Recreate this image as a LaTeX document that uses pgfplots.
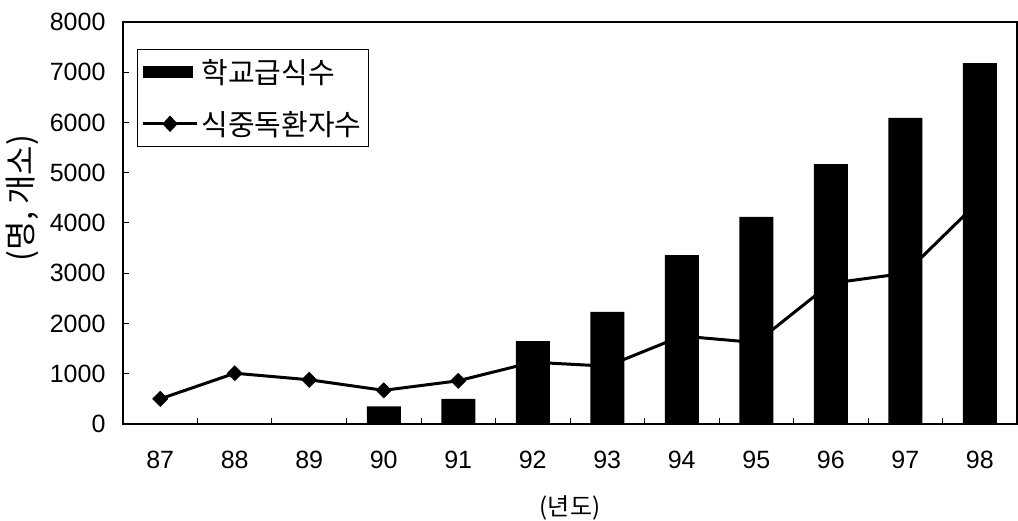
\documentclass[border=0pt]{standalone}
\usepackage{fontspec}
\setmainfont{Liberation Sans}
\newfontfamily\kr{Noto Sans CJK KR}
\usepackage{pgfplots}
\pgfplotsset{compat=1.18}
\begin{document}
\begin{tikzpicture}
\begin{axis}[
  at={(0pt,0pt)}, anchor=south west,
  scale only axis, width=894pt, height=402pt,
  xmin=-0.5, xmax=11.5, ymin=0, ymax=8000,
  axis line style={line width=1.6pt},
  xtick={-0.5,0.5,...,10.5},
  xticklabels={87,88,89,90,91,92,93,94,95,96,97,98},
  xticklabel style={xshift=37.25pt, yshift=-24pt},
  ytick={0,1000,...,8000},
  yticklabel style={xshift=-14pt},
  scaled y ticks=false,
  /pgf/number format/.cd, fixed, 1000 sep={}, assume math mode=true,
  /pgfplots/.cd,
  tick align=inside, major tick length=6pt,
  tick style={line width=1pt, black},
  xtick pos=bottom, ytick pos=left,
  tick label style={font=\fontsize{25}{29}\selectfont},
  xlabel={\kr (년도)},
  xlabel style={at={(axis description cs:0.5,-0.209)}, anchor=center, font=\fontsize{24}{28}\selectfont},
  ylabel={\kr (명, 개소)},
  ylabel style={at={(axis description cs:-0.113,0.562)}, anchor=center, font=\fontsize{32}{38}\selectfont},
  legend style={at={(0.0157,0.933)}, anchor=north west, draw=black, line width=1pt,
    font=\kr\fontsize{29}{34}\selectfont, inner xsep=4pt, inner ysep=8pt, row sep=22pt,
    nodes={inner xsep=3pt}},
  legend cell align=left,
]
\addplot[black, line width=3pt, mark=square*, mark size=5.4pt, mark options={rotate=45, line width=0.5pt}, forget plot]
  coordinates {(0,500)(1,1010)(2,880)(3,670)(4,860)(5,1230)(6,1150)(7,1750)(8,1620)(9,2800)(10,3000)(11,4450)};
\addplot[ybar, bar width=34pt, fill=black, draw=none,
  legend image code/.code={\fill[black] (0pt,-6pt) rectangle (50pt,6pt);}]
  coordinates {(3,350)(4,500)(5,1650)(6,2230)(7,3360)(8,4120)(9,5170)(10,6090)(11,7180)};
\addlegendentry{학교급식수}
\addlegendimage{legend image code/.code={\draw[black, line width=3pt] (0pt,0pt) -- (54pt,0pt); \fill[black] (27pt,7.5pt) -- (20pt,0pt) -- (27pt,-7.5pt) -- (34pt,0pt) -- cycle;}}
\addlegendentry{식중독환자수}
\end{axis}
\pgfresetboundingbox
\path[use as bounding box] (-123pt,-97pt) rectangle (895pt,424pt);
\end{tikzpicture}
\end{document}
